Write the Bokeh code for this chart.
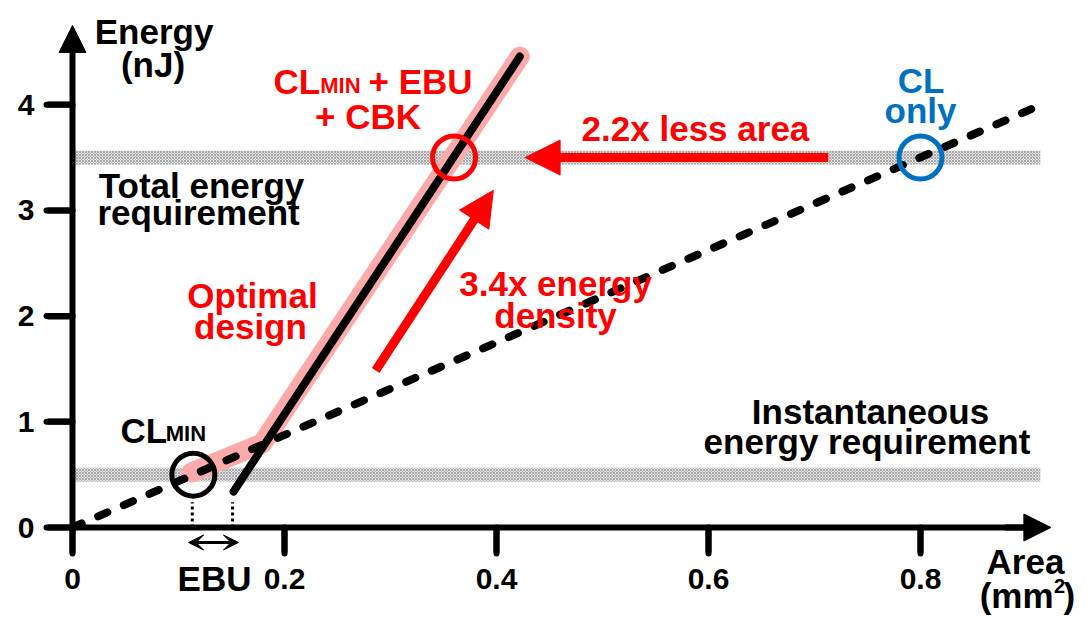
from bokeh.plotting import figure
from bokeh.models import (Label, Arrow, NormalHead, VeeHead, FixedTicker,
                          NumeralTickFormatter, Range1d)
from bokeh.embed import file_html
from bokeh.resources import INLINE

# ---------------- data ----------------
area_ticks = [0, 0.2, 0.4, 0.6, 0.8]
energy_ticks = [0, 1, 2, 3, 4]

# capacitor-only design (dashed)
cl_only_area = [0.0, 0.914]
cl_only_energy = [0.0, 4.0]

# CL_MIN + EBU + CBK design (solid)
cbk_area = [0.152, 0.422]
cbk_energy = [0.34, 4.456]

# optimal design path (pink highlight)
optimal_area = [0.112, 0.179, 0.422]
optimal_energy = [0.52, 0.795, 4.456]

# requirement bands
req_levels = [3.5, 0.5]
req_halfwidth = 0.065
req_extent = [0.0, 0.913]

# highlighted design points
marker_area = [0.114, 0.36, 0.8]
marker_energy = [0.5, 3.5, 3.5]
marker_color = ["black", "red", "#0070C0"]

# EBU guide lines
ebu_area = [0.113, 0.151]
ebu_top = [0.24, 0.24]

FONT = "Liberation Sans"
RED = "#FF0000"
BLUE = "#0070C0"
PINK = "#FFAAAA"

W, H = 1082, 619
PX_X = 1060.0   # pixels per mm^2
PX_Y = 105.7    # pixels per nJ
p = figure(width=W, height=H,
           x_range=Range1d(-72 / PX_X, (W - 72) / PX_X),
           y_range=Range1d(-(H - 527) / PX_Y, 527 / PX_Y),
           output_backend="svg", toolbar_location=None, tools="",
           min_border_left=0, min_border_right=0, min_border_top=0, min_border_bottom=0)
p.xgrid.visible = False
p.ygrid.visible = False
p.outline_line_color = None

for ax in (p.xaxis, p.yaxis):
    ax.fixed_location = 0
    ax.axis_line_width = 6
    ax.axis_line_color = "black"
    ax.major_tick_line_width = 6
    ax.major_tick_line_color = "black"
    ax.major_tick_out = 25
    ax.major_tick_in = 0
    ax.minor_tick_out = 0
    ax.minor_tick_in = 0
    ax.major_label_text_font = FONT
    ax.major_label_text_font_style = "bold"
    ax.major_label_text_font_size = "30px"
    ax.major_label_text_color = "black"
p.xaxis.ticker = FixedTicker(ticks=area_ticks)
p.yaxis.ticker = FixedTicker(ticks=energy_ticks)
p.xaxis.formatter = NumeralTickFormatter(format="0.[0]")
p.xaxis.bounds = (0, 0.9)
p.yaxis.bounds = (0, 4.6)
p.xaxis.major_label_standoff = 16
p.yaxis.major_label_standoff = 13

# tick marks drawn from the tick arrays (outward, 26 px)
tick_len_x = 26 / PX_Y
tick_len_y = 26 / PX_X
p.segment(x0=area_ticks, y0=[0] * len(area_ticks), x1=area_ticks,
          y1=[-tick_len_x] * len(area_ticks), line_color="black", line_width=6, line_cap="round")
p.segment(x0=[0] * len(energy_ticks), y0=energy_ticks, x1=[-tick_len_y] * len(energy_ticks),
          y1=energy_ticks, line_color="black", line_width=6, line_cap="round")

# requirement bands (checkered)
p.quad(left=req_extent[0], right=req_extent[1],
       bottom=[v - req_halfwidth for v in req_levels],
       top=[v + req_halfwidth for v in req_levels],
       fill_color="#e2e2e2", line_color=None,
       hatch_pattern="diagonal_cross", hatch_scale=3, hatch_weight=1, hatch_color="#a8a8a8")

# curves
p.line(optimal_area, optimal_energy, line_color=PINK, line_width=20,
       line_cap="round", line_join="round")
p.line(cbk_area, cbk_energy, line_color="black", line_width=8, line_cap="round")
p.line(cl_only_area, cl_only_energy, line_color="black", line_width=8,
       line_dash="10 18", line_cap="round")

# EBU dotted guides
p.segment(x0=ebu_area, y0=[0, 0], x1=ebu_area, y1=ebu_top,
          line_color="black", line_width=3, line_dash="3 3")

# markers
p.scatter(marker_area, marker_energy, marker="circle", size=43,
          fill_color=None, line_color=marker_color, line_width=5)

# arrows
p.add_layout(Arrow(x_start=0.713, y_start=3.5, x_end=0.427, y_end=3.5,
                   line_color=RED, line_width=9, line_cap="butt",
                   end=NormalHead(size=35, fill_color=RED, line_color=RED)))
p.add_layout(Arrow(x_start=0.286, y_start=1.485, x_end=0.397, y_end=3.19,
                   line_color=RED, line_width=9, line_cap="butt",
                   end=NormalHead(size=35, fill_color=RED, line_color=RED)))
# axis arrow heads
p.add_layout(Arrow(x_start=0, y_start=4.55, x_end=0, y_end=4.75,
                   line_color="black", line_width=6,
                   end=NormalHead(size=27, fill_color="black", line_color="black")))
p.add_layout(Arrow(x_start=0.88, y_start=0, x_end=0.923, y_end=0,
                   line_color="black", line_width=6,
                   end=NormalHead(size=27, fill_color="black", line_color="black")))
# EBU double arrow
p.add_layout(Arrow(x_start=0.1095, y_start=-0.142, x_end=0.1566, y_end=-0.142,
                   line_color="black", line_width=3,
                   start=VeeHead(size=15, fill_color="black", line_color="black"),
                   end=VeeHead(size=15, fill_color="black", line_color="black")))


def lab(x, y, text, color="black", size=35, align="center"):
    p.add_layout(Label(x=x, y=y, text=text, text_color=color, text_font=FONT,
                       text_font_style="bold", text_font_size=f"{size}px",
                       text_align=align, text_baseline="alphabetic"))


lab(0.0769, 4.696, "Energy")
lab(0.0759, 4.376, "(nJ)")

lab(0.1896, 4.222, "CL", RED, align="left")
lab(0.2337, 4.184, "MIN", RED, size=22, align="left")
lab(0.3774, 4.222, "+ EBU", RED, align="right")
lab(0.2788, 3.891, "+ CBK", RED)

lab(0.8005, 4.231, "CL", BLUE)
lab(0.8, 3.948, "only", BLUE)

lab(0.1217, 3.236, "Total energy")
lab(0.1189, 2.976, "requirement")

lab(0.1698, 2.196, "Optimal", RED)
lab(0.1679, 1.906, "design", RED)

lab(0.4557, 2.31, "3.4x energy", RED)
lab(0.4557, 2.01, "density", RED)

lab(0.5877, 3.776, "2.2x less area", RED)

lab(0.7528, 1.096, "Instantaneous")
lab(0.7495, 0.816, "energy requirement")

lab(0.0453, 0.916, "CL", align="left")
lab(0.088, 0.886, "MIN", size=22, align="left")

lab(0.134, -0.48, "EBU")

lab(0.899, -0.326, "Area")
lab(0.9255, -0.645, "(mm", align="right")
lab(0.926, -0.55, "2", size=20, align="left")
lab(0.935, -0.645, ")", align="left")

open("out.html", "w").write(file_html(p, INLINE))
